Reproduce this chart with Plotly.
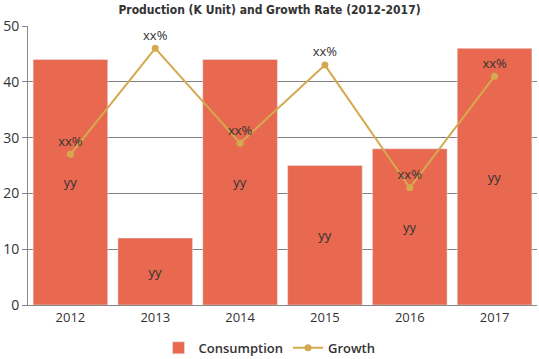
import plotly.graph_objects as go

years = ["2012", "2013", "2014", "2015", "2016", "2017"]
consumption = [44, 12, 44, 25, 28, 46]
growth = [27, 46, 29, 43, 21, 41]
bar_labels = ["yy"] * 6
growth_labels = ["xx%"] * 6

fig = go.Figure()
fig.add_trace(go.Bar(
    x=years, y=consumption, name="Consumption",
    marker=dict(color="#E8694F"),
    text=bar_labels, textposition="inside", insidetextanchor="middle",
    textfont=dict(color="#333333", size=13, family="Open Sans"),
    hoverinfo="skip",
))
fig.add_trace(go.Scatter(
    x=years, y=growth, name="Growth", mode="lines+markers+text",
    line=dict(color="#D4AA50", width=2),
    marker=dict(color="#D4AA50", size=7),
    text=growth_labels, textposition="top center",
    textfont=dict(color="#333333", size=13, family="Open Sans"),
))
fig.update_layout(
    width=539, height=359,
    margin=dict(l=28, r=2, t=26, b=54),
    paper_bgcolor="white", plot_bgcolor="white",
    title=dict(text="<b>Production (K Unit) and Growth Rate (2012-2017)</b>",
               x=0.5, xanchor="center", y=0.972, yanchor="middle",
               automargin=False,
               font=dict(family="DejaVu Sans Condensed", size=12, color="#333333")),
    bargap=0.12,
    showlegend=True,
    legend=dict(orientation="h", x=0.5, xanchor="center", xref="container",
                y=0.031, yanchor="middle", yref="container",
                itemwidth=30, tracegroupgap=0,
                font=dict(family="Open Sans", size=13, color="#333333", weight=600)),
    xaxis=dict(showgrid=False, showline=True, linecolor="#888888", linewidth=1,
               automargin=False,
               ticks="", tickfont=dict(family="Open Sans", size=13, color="#333333")),
    yaxis=dict(range=[0, 50], dtick=10, showgrid=True, gridcolor="#808080",
               automargin=False,
               showline=True, linecolor="#888888", ticks="outside", ticklen=5,
               tickcolor="#888888", zeroline=False,
               tickfont=dict(family="Open Sans", size=14, color="#333333")),
)
fig.write_html("out.html", config={"displayModeBar": False},
               post_script="document.body.style.margin='0';")
